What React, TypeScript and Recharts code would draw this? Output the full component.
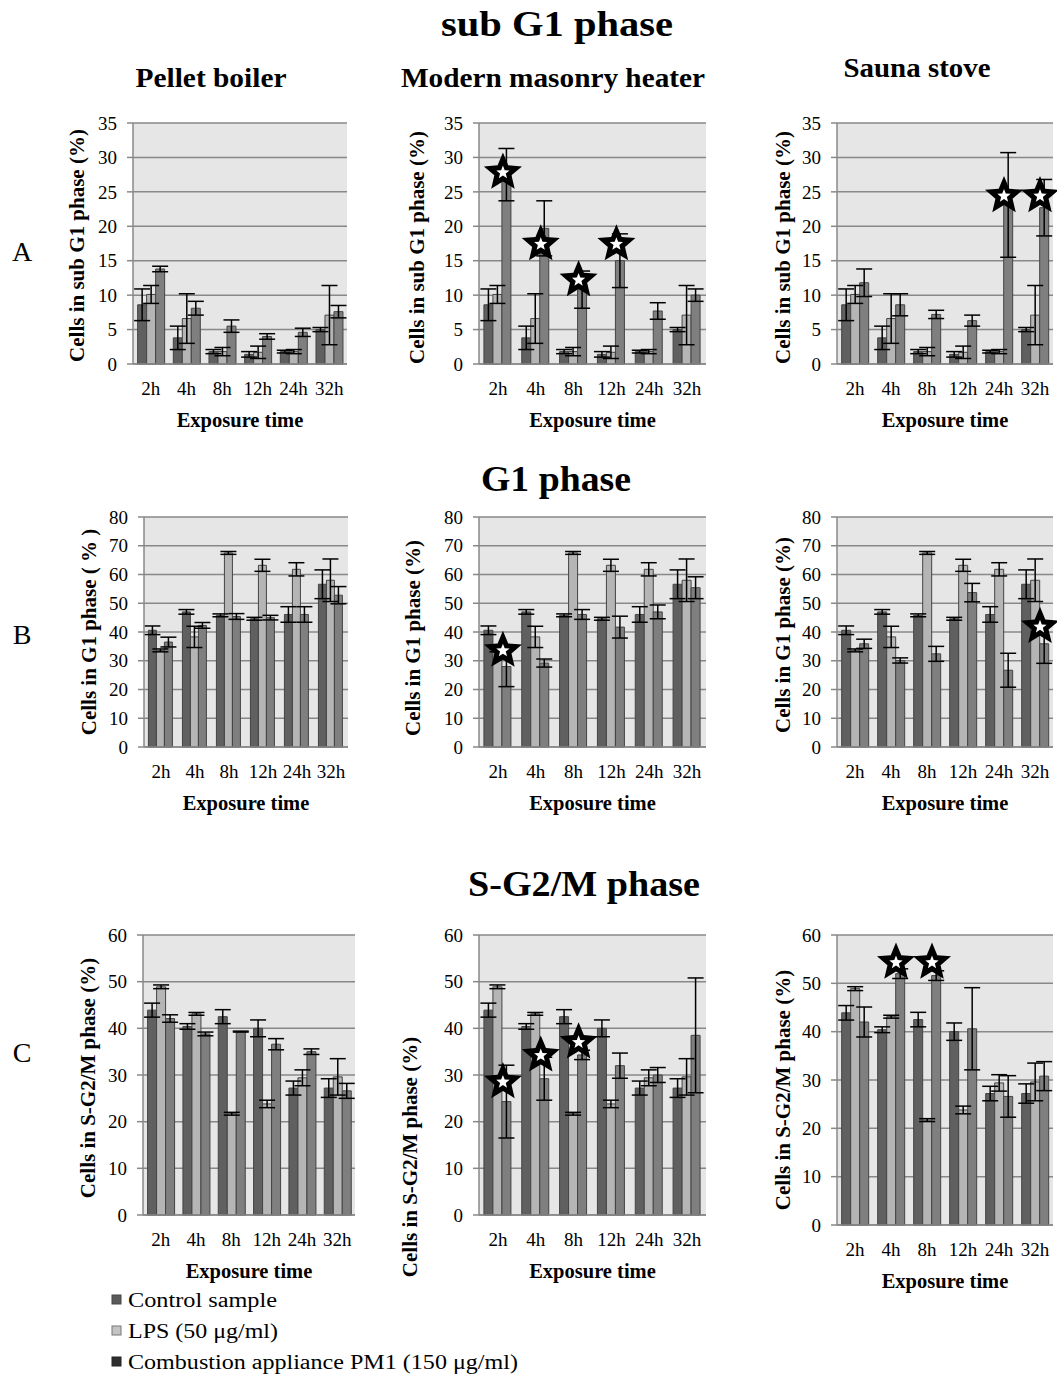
import React from "react";
import {
  ComposedChart,
  Bar,
  ErrorBar,
  Scatter,
  XAxis,
  YAxis,
  CartesianGrid,
} from "recharts";

const FONT = "'Liberation Serif', 'Times New Roman', serif";

const TIMES = ["2h", "4h", "8h", "12h", "24h", "32h"];

// sub G1 phase
const SUBG1_CONTROL = [8.6, 3.8, 1.8, 1.4, 1.8, 5.0];
const SUBG1_CONTROL_ERR = [2.3, 1.7, 0.3, 0.4, 0.2, 0.3];
const SUBG1_LPS = [10.1, 6.6, 1.8, 1.7, 1.8, 7.1];
const SUBG1_LPS_ERR = [1.3, 3.6, 0.6, 0.9, 0.3, 4.3];
const SUBG1_PELLET = [13.8, 8.1, 5.5, 4.0, 4.6, 7.6];
const SUBG1_PELLET_ERR = [0.4, 1.0, 0.9, 0.4, 0.6, 0.9];
const SUBG1_MASONRY = [27.5, 19.7, 10.8, 15.0, 7.7, 10.0];
const SUBG1_MASONRY_ERR = [3.8, 4.0, 2.7, 3.9, 1.2, 0.9];
const SUBG1_MASONRY_STAR = [27.8, 17.4, 12.2, 17.4, null, null];
const SUBG1_SAUNA = [11.8, 8.6, 7.2, 6.3, 23.1, 22.7];
const SUBG1_SAUNA_ERR = [2.0, 1.6, 0.6, 0.8, 7.6, 4.1];
const SUBG1_SAUNA_STAR = [null, null, null, null, 24.4, 24.4];
const SUBG1_TICKS = [0, 5, 10, 15, 20, 25, 30, 35];

// G1 phase
const G1_CONTROL = [40.6, 47.0, 45.8, 44.6, 46.1, 56.6];
const G1_CONTROL_ERR = [1.5, 0.8, 0.5, 0.5, 2.7, 5.0];
const G1_LPS = [33.6, 38.3, 67.5, 63.2, 61.8, 58.0];
const G1_LPS_ERR = [0.5, 3.7, 0.5, 2.1, 2.3, 7.4];
const G1_PELLET = [36.5, 42.3, 45.4, 45.0, 46.1, 52.8];
const G1_PELLET_ERR = [1.7, 1.0, 1.0, 0.8, 2.7, 3.0];
const G1_MASONRY = [28.0, 29.2, 46.1, 41.7, 47.0, 55.4];
const G1_MASONRY_ERR = [7.0, 1.4, 1.7, 3.8, 2.4, 3.8];
const G1_MASONRY_STAR = [33.5, null, null, null, null, null];
const G1_SAUNA = [35.9, 30.1, 32.4, 53.7, 26.7, 35.9];
const G1_SAUNA_ERR = [1.6, 0.9, 2.6, 3.2, 5.9, 6.8];
const G1_SAUNA_STAR = [null, null, null, null, null, 41.8];
const G1_TICKS = [0, 10, 20, 30, 40, 50, 60, 70, 80];

// S-G2/M phase
const SG2M_CONTROL = [43.9, 40.4, 42.5, 40.0, 27.2, 27.2];
const SG2M_CONTROL_ERR = [1.5, 0.6, 1.5, 1.8, 1.5, 2.0];
const SG2M_LPS = [48.9, 43.1, 21.7, 23.8, 29.4, 29.6];
const SG2M_LPS_ERR = [0.4, 0.3, 0.3, 0.8, 1.7, 3.9];
const SG2M_PELLET = [42.1, 38.8, 39.3, 36.6, 35.0, 26.6];
const SG2M_PELLET_ERR = [0.8, 0.4, 0.1, 1.2, 0.6, 1.6];
const SG2M_MASONRY = [24.3, 29.2, 34.3, 32.0, 30.0, 38.5];
const SG2M_MASONRY_ERR = [7.8, 4.6, 1.0, 2.7, 1.6, 12.3];
const SG2M_MASONRY_STAR = [28.5, 34.2, 37.0, null, null, null];
const SG2M_SAUNA = [42.0, 52.0, 51.6, 40.6, 26.6, 30.8];
const SG2M_SAUNA_ERR = [3.1, 1.0, 1.0, 8.5, 4.3, 3.0];
const SG2M_SAUNA_STAR = [null, 54.3, 54.3, null, null, null];
const SG2M_TICKS = [0, 10, 20, 30, 40, 50, 60];

const CONTROL_FILL = "#606060";
const LPS_FILL = "#b5b5b5";
const PM_FILL = "#7f7f7f";
const BAR_STROKE = "#444444";
const GRID = "#888888";

const L = 110;
const T = 12;
const R = 4;
const H = 75;

function starPoints(cx: number, cy: number, ro: number, ri: number) {
  const pts: string[] = [];
  for (let i = 0; i < 10; i++) {
    const r = i % 2 === 0 ? ro : ri;
    const a = -Math.PI / 2 + (i * Math.PI) / 5;
    pts.push(`${cx + r * Math.cos(a)},${cy + r * Math.sin(a)}`);
  }
  return pts.join(" ");
}

function StarShape(props: any) {
  const { cx, cy, payload } = props;
  if (payload == null || payload.star == null || cx == null || cy == null || isNaN(cy)) return <g />;
  const x = cx + 5;
  return (
    <g>
      <polygon points={starPoints(x, cy, 20, 9)} fill="#000" />
      <polygon points={starPoints(x, cy, 7, 3)} fill="#fff" />
    </g>
  );
}

type PanelProps = {
  x0: number;
  x1: number;
  y0: number;
  y1: number;
  max: number;
  ticks: number[];
  yLabel: string;
  labelDx: number;
  labelDy: number;
  control: number[];
  controlErr: number[];
  lps: number[];
  lpsErr: number[];
  pm: number[];
  pmErr: number[];
  star?: (number | null)[];
};

function Panel(p: PanelProps) {
  const plotW = p.x1 - p.x0;
  const plotH = p.y1 - p.y0;
  const data = TIMES.map((t, i) => ({
    time: t,
    control: p.control[i],
    controlErr: p.controlErr[i],
    lps: p.lps[i],
    lpsErr: p.lpsErr[i],
    pm: p.pm[i],
    pmErr: p.pmErr[i],
    star: p.star ? p.star[i] : null,
  }));
  const ylx = L - p.labelDx;
  const yly = T + plotH / 2 + p.labelDy;
  return (
    <div style={{ position: "absolute", left: p.x0 - L, top: p.y0 - T }}>
      <ComposedChart
        width={plotW + L + R}
        height={plotH + T + H}
        data={data}
        margin={{ top: T, right: R, bottom: 0, left: 0 }}
        barCategoryGap="13%"
        barGap={0}
        style={{ fontFamily: FONT }}
      >
        <CartesianGrid vertical={false} fill="#e6e6e6" stroke={GRID} strokeWidth={1.5} />
        <XAxis
          dataKey="time"
          interval={0}
          height={H}
          axisLine={{ stroke: GRID, strokeWidth: 1.5 }}
          tickLine={false}
          tickSize={0}
          tickMargin={18}
          tick={{ fontSize: 19, fill: "#000", fontFamily: FONT }}
          label={{
            content: () => (
              <text
                x={L + plotW / 2}
                y={T + plotH + 63}
                textAnchor="middle"
                fontSize={20.5}
                fontWeight="bold"
                fontFamily={FONT}
                fill="#000"
              >
                Exposure time
              </text>
            ),
          }}
        />
        <YAxis
          width={L}
          domain={[0, p.max]}
          ticks={p.ticks}
          interval={0}
          axisLine={{ stroke: GRID, strokeWidth: 1.5 }}
          tickLine={{ stroke: GRID, strokeWidth: 1.5 }}
          tickSize={6}
          tickMargin={10}
          tick={{ fontSize: 19, fill: "#000", fontFamily: FONT }}
          label={{
            content: () => (
              <text
                x={ylx}
                y={yly}
                transform={`rotate(-90 ${ylx} ${yly})`}
                textAnchor="middle"
                dominantBaseline="central"
                fontSize={21}
                fontWeight="bold"
                fontFamily={FONT}
                fill="#000"
              >
                {p.yLabel}
              </text>
            ),
          }}
        />
        <Bar dataKey="control" fill={CONTROL_FILL} stroke={BAR_STROKE} strokeWidth={1} isAnimationActive={false}>
          <ErrorBar dataKey="controlErr" width={8} stroke="#000" strokeWidth={1.5} />
        </Bar>
        <Bar dataKey="lps" fill={LPS_FILL} stroke={BAR_STROKE} strokeWidth={1} isAnimationActive={false}>
          <ErrorBar dataKey="lpsErr" width={8} stroke="#000" strokeWidth={1.5} />
        </Bar>
        <Bar dataKey="pm" fill={PM_FILL} stroke={BAR_STROKE} strokeWidth={1} isAnimationActive={false}>
          <ErrorBar dataKey="pmErr" width={8} stroke="#000" strokeWidth={1.5} />
        </Bar>
        {p.star ? <Scatter dataKey="star" shape={StarShape} isAnimationActive={false} /> : null}
      </ComposedChart>
    </div>
  );
}

const SUBG1_LABEL = "Cells in sub G1 phase (%)";
const SG2M_LABEL = "Cells in S-G2/M phase (%)";

export default function App() {
  const t = { fontFamily: FONT, fill: "#000" } as const;
  return (
    <div style={{ position: "absolute", left: 0, top: 0, width: 1057, height: 1383, background: "#fff" }}>
      <svg width={1057} height={1383} style={{ position: "absolute", left: 0, top: 0 }}>
        <text {...t} x={557} y={36} textAnchor="middle" fontSize={36} fontWeight="bold" textLength={232} lengthAdjust="spacingAndGlyphs">sub G1 phase</text>
        <text {...t} x={211} y={87} textAnchor="middle" fontSize={27} fontWeight="bold" textLength={151} lengthAdjust="spacingAndGlyphs">Pellet boiler</text>
        <text {...t} x={553} y={87} textAnchor="middle" fontSize={27} fontWeight="bold" textLength={304} lengthAdjust="spacingAndGlyphs">Modern masonry heater</text>
        <text {...t} x={917} y={77} textAnchor="middle" fontSize={27} fontWeight="bold" textLength={147} lengthAdjust="spacingAndGlyphs">Sauna stove</text>
        <text {...t} x={556} y={491} textAnchor="middle" fontSize={36} fontWeight="bold" textLength={150} lengthAdjust="spacingAndGlyphs">G1 phase</text>
        <text {...t} x={584} y={896} textAnchor="middle" fontSize={36} fontWeight="bold" textLength={232} lengthAdjust="spacingAndGlyphs">S-G2/M phase</text>
        <text {...t} x={22} y={261} textAnchor="middle" fontSize={28}>A</text>
        <text {...t} x={22} y={644} textAnchor="middle" fontSize={28}>B</text>
        <text {...t} x={22} y={1062} textAnchor="middle" fontSize={28}>C</text>

        <rect x={112} y={1295} width={9} height={9} fill="#5a5a5a" stroke="#444" />
        <text {...t} x={128} y={1307} fontSize={20} textLength={149} lengthAdjust="spacingAndGlyphs">Control sample</text>
        <rect x={112} y={1326} width={9} height={9} fill="#c4c4c4" stroke="#777" />
        <text {...t} x={128} y={1338} fontSize={20} textLength={150} lengthAdjust="spacingAndGlyphs">LPS (50 μg/ml)</text>
        <rect x={112} y={1357} width={9} height={9} fill="#2e2e2e" stroke="#222" />
        <text {...t} x={128} y={1369} fontSize={20} textLength={390} lengthAdjust="spacingAndGlyphs">Combustion appliance PM1 (150 μg/ml)</text>
      </svg>

      <Panel x0={133} x1={347} y0={123} y1={364} max={35} ticks={SUBG1_TICKS} yLabel={SUBG1_LABEL} labelDx={56} labelDy={2}
        control={SUBG1_CONTROL} controlErr={SUBG1_CONTROL_ERR} lps={SUBG1_LPS} lpsErr={SUBG1_LPS_ERR} pm={SUBG1_PELLET} pmErr={SUBG1_PELLET_ERR} />
      <Panel x0={479} x1={706} y0={123} y1={364} max={35} ticks={SUBG1_TICKS} yLabel={SUBG1_LABEL} labelDx={62} labelDy={4}
        control={SUBG1_CONTROL} controlErr={SUBG1_CONTROL_ERR} lps={SUBG1_LPS} lpsErr={SUBG1_LPS_ERR} pm={SUBG1_MASONRY} pmErr={SUBG1_MASONRY_ERR} star={SUBG1_MASONRY_STAR} />
      <Panel x0={837} x1={1053} y0={123} y1={364} max={35} ticks={SUBG1_TICKS} yLabel={SUBG1_LABEL} labelDx={54} labelDy={4}
        control={SUBG1_CONTROL} controlErr={SUBG1_CONTROL_ERR} lps={SUBG1_LPS} lpsErr={SUBG1_LPS_ERR} pm={SUBG1_SAUNA} pmErr={SUBG1_SAUNA_ERR} star={SUBG1_SAUNA_STAR} />

      <Panel x0={144} x1={348} y0={517} y1={747} max={80} ticks={G1_TICKS} yLabel="Cells in G1 phase ( % )" labelDx={55} labelDy={0}
        control={G1_CONTROL} controlErr={G1_CONTROL_ERR} lps={G1_LPS} lpsErr={G1_LPS_ERR} pm={G1_PELLET} pmErr={G1_PELLET_ERR} />
      <Panel x0={479} x1={706} y0={517} y1={747} max={80} ticks={G1_TICKS} yLabel="Cells in G1 phase (%)" labelDx={66} labelDy={6}
        control={G1_CONTROL} controlErr={G1_CONTROL_ERR} lps={G1_LPS} lpsErr={G1_LPS_ERR} pm={G1_MASONRY} pmErr={G1_MASONRY_ERR} star={G1_MASONRY_STAR} />
      <Panel x0={837} x1={1053} y0={517} y1={747} max={80} ticks={G1_TICKS} yLabel="Cells in G1 phase (%)" labelDx={54} labelDy={3}
        control={G1_CONTROL} controlErr={G1_CONTROL_ERR} lps={G1_LPS} lpsErr={G1_LPS_ERR} pm={G1_SAUNA} pmErr={G1_SAUNA_ERR} star={G1_SAUNA_STAR} />

      <Panel x0={143} x1={355} y0={935} y1={1215} max={60} ticks={SG2M_TICKS} yLabel={SG2M_LABEL} labelDx={55} labelDy={3}
        control={SG2M_CONTROL} controlErr={SG2M_CONTROL_ERR} lps={SG2M_LPS} lpsErr={SG2M_LPS_ERR} pm={SG2M_PELLET} pmErr={SG2M_PELLET_ERR} />
      <Panel x0={479} x1={706} y0={935} y1={1215} max={60} ticks={SG2M_TICKS} yLabel={SG2M_LABEL} labelDx={69} labelDy={82}
        control={SG2M_CONTROL} controlErr={SG2M_CONTROL_ERR} lps={SG2M_LPS} lpsErr={SG2M_LPS_ERR} pm={SG2M_MASONRY} pmErr={SG2M_MASONRY_ERR} star={SG2M_MASONRY_STAR} />
      <Panel x0={837} x1={1053} y0={935} y1={1225} max={60} ticks={SG2M_TICKS} yLabel={SG2M_LABEL} labelDx={54} labelDy={10}
        control={SG2M_CONTROL} controlErr={SG2M_CONTROL_ERR} lps={SG2M_LPS} lpsErr={SG2M_LPS_ERR} pm={SG2M_SAUNA} pmErr={SG2M_SAUNA_ERR} star={SG2M_SAUNA_STAR} />
    </div>
  );
}
